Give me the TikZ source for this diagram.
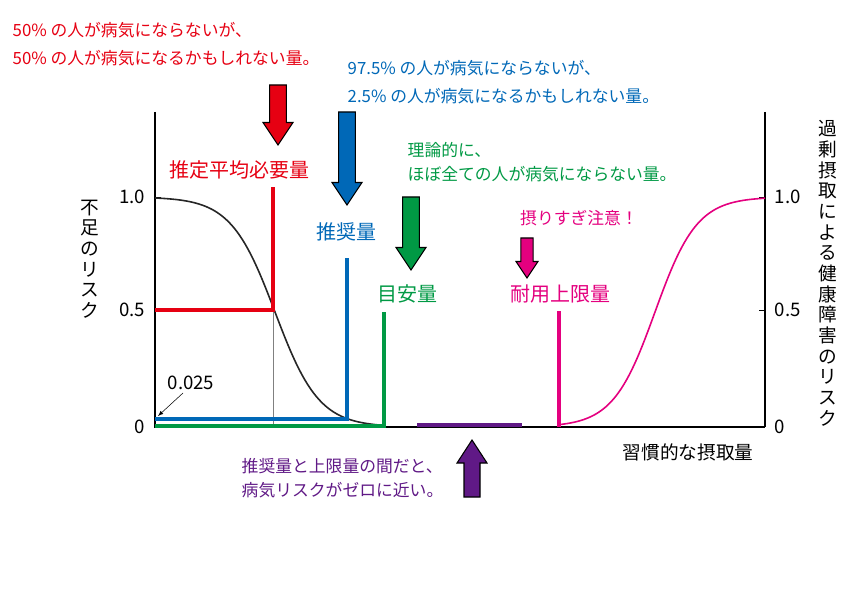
\documentclass[tikz,border=0pt]{standalone}
\usepackage{fontspec}
\setmainfont{Noto Sans CJK JP}
\definecolor{cred}{RGB}{230,0,18}
\definecolor{cblue}{RGB}{0,104,183}
\definecolor{cgreen}{RGB}{0,153,68}
\definecolor{cpink}{RGB}{228,0,127}
\definecolor{cpurp}{RGB}{96,25,134}
\newcommand{\blockarrowdown}[5]{% x, ytop, ybottom, color, width
  \fill[#4,draw=black,line width=0.8pt] (#1-#5*0.28,#2) -- (#1+#5*0.28,#2) -- (#1+#5*0.28,#3-#5*0.75) -- (#1+#5*0.5,#3-#5*0.75) -- (#1,#3) -- (#1-#5*0.5,#3-#5*0.75) -- (#1-#5*0.28,#3-#5*0.75) -- cycle;}
\begin{document}
\begin{tikzpicture}[x=0.75pt,y=-0.75pt,
  lbl/.style={font=\fontsize{12.6}{21.5}\selectfont,align=left,anchor=west},
  big/.style={font=\fontsize{15}{18}\selectfont},
  ax/.style={font=\fontsize{14}{16}\selectfont},
  vt/.style={font=\fontsize{14}{15.5}\selectfont,align=center,anchor=north}]
\useasboundingbox (0,0) rectangle (842,595);
% axes
\draw[line width=0.8pt] (155,112) -- (155,427) -- (765,427);
\draw[line width=0.8pt] (765,112) -- (765,427);
\foreach \y in {197,310}{\draw (155,\y) -- (161,\y); \draw (759,\y) -- (765,\y);}
\node[ax,anchor=east] at (150,197) {1.0};
\node[ax,anchor=east] at (150,310) {0.5};
\node[ax,anchor=east] at (150,427) {0};
\node[ax,anchor=west] at (770,197) {1.0};
\node[ax,anchor=west] at (770,310) {0.5};
\node[ax,anchor=west] at (770,427) {0};
\node[vt] at (90,195) {不\\足\\の\\リ\\ス\\ク};
\node[vt] at (828,116) {過\\剰\\摂\\取\\に\\よ\\る\\健\\康\\障\\害\\の\\リ\\ス\\ク};
\node[ax,anchor=west] at (618,452) {習慣的な摂取量};
% curves
\draw[line width=1.2pt,black!85] plot[domain=155:378,samples=80] (\x,{427-230/(1+exp((\x-275)/22))});
\draw[line width=1.2pt,cpink] plot[domain=559:765,samples=80] (\x,{427-230/(1+exp(-(\x-655)/21))});
% lines
\draw[gray,line width=0.6pt] (273,310) -- (273,427);
\draw[cred,line width=2.5pt] (155,310) -- (273,310) -- (273,187);
\draw[cblue,line width=2.5pt] (155,419) -- (347,419) -- (347,258);
\draw[cgreen,line width=2.5pt] (155,426) -- (384,426) -- (384,312);
\draw[cpurp,line width=2.5pt] (417,425) -- (522,425);
\draw[cpink,line width=2.5pt] (559,427) -- (559,311);
% arrows
\blockarrowdown{278}{85}{145}{cred}{30}
\blockarrowdown{347}{112}{205}{cblue}{30}
\blockarrowdown{411}{197}{270}{cgreen}{30}
\blockarrowdown{527}{238}{278}{cpink}{22}
\fill[cpurp,draw=black,line width=0.8pt] (472-8,497) -- (472+8,497) -- (472+8,463) -- (472+15,463) -- (472,440) -- (472-15,463) -- (472-8,463) -- cycle;
% labels
\node[lbl,text=cred] at (8,44) {50\% の人が病気にならないが、\\50\% の人が病気になるかもしれない量。};
\node[lbl,text=cblue] at (343,82) {97.5\% の人が病気にならないが、\\2.5\% の人が病気になるかもしれない量。};
\node[lbl,text=cgreen,font=\fontsize{12.6}{17.5}\selectfont] at (403,162) {理論的に、\\ほぼ全ての人が病気にならない量。};
\node[lbl,text=cpurp,font=\fontsize{12.6}{18}\selectfont] at (237,478) {推奨量と上限量の間だと、\\病気リスクがゼロに近い。};
\node[big,text=cred] at (239,170) {推定平均必要量};
\node[big,text=cblue] at (346,232) {推奨量};
\node[big,text=cgreen] at (407,294) {目安量};
\node[big,text=cpink] at (560,294) {耐用上限量};
\node[font=\fontsize{12.6}{14}\selectfont,text=cpink] at (579,218) {摂りすぎ注意！};
\node[ax,anchor=west] (q) at (163,383) {0.025};
\draw[-latex] (183,393) -- (158,416);
\end{tikzpicture}
\end{document}
